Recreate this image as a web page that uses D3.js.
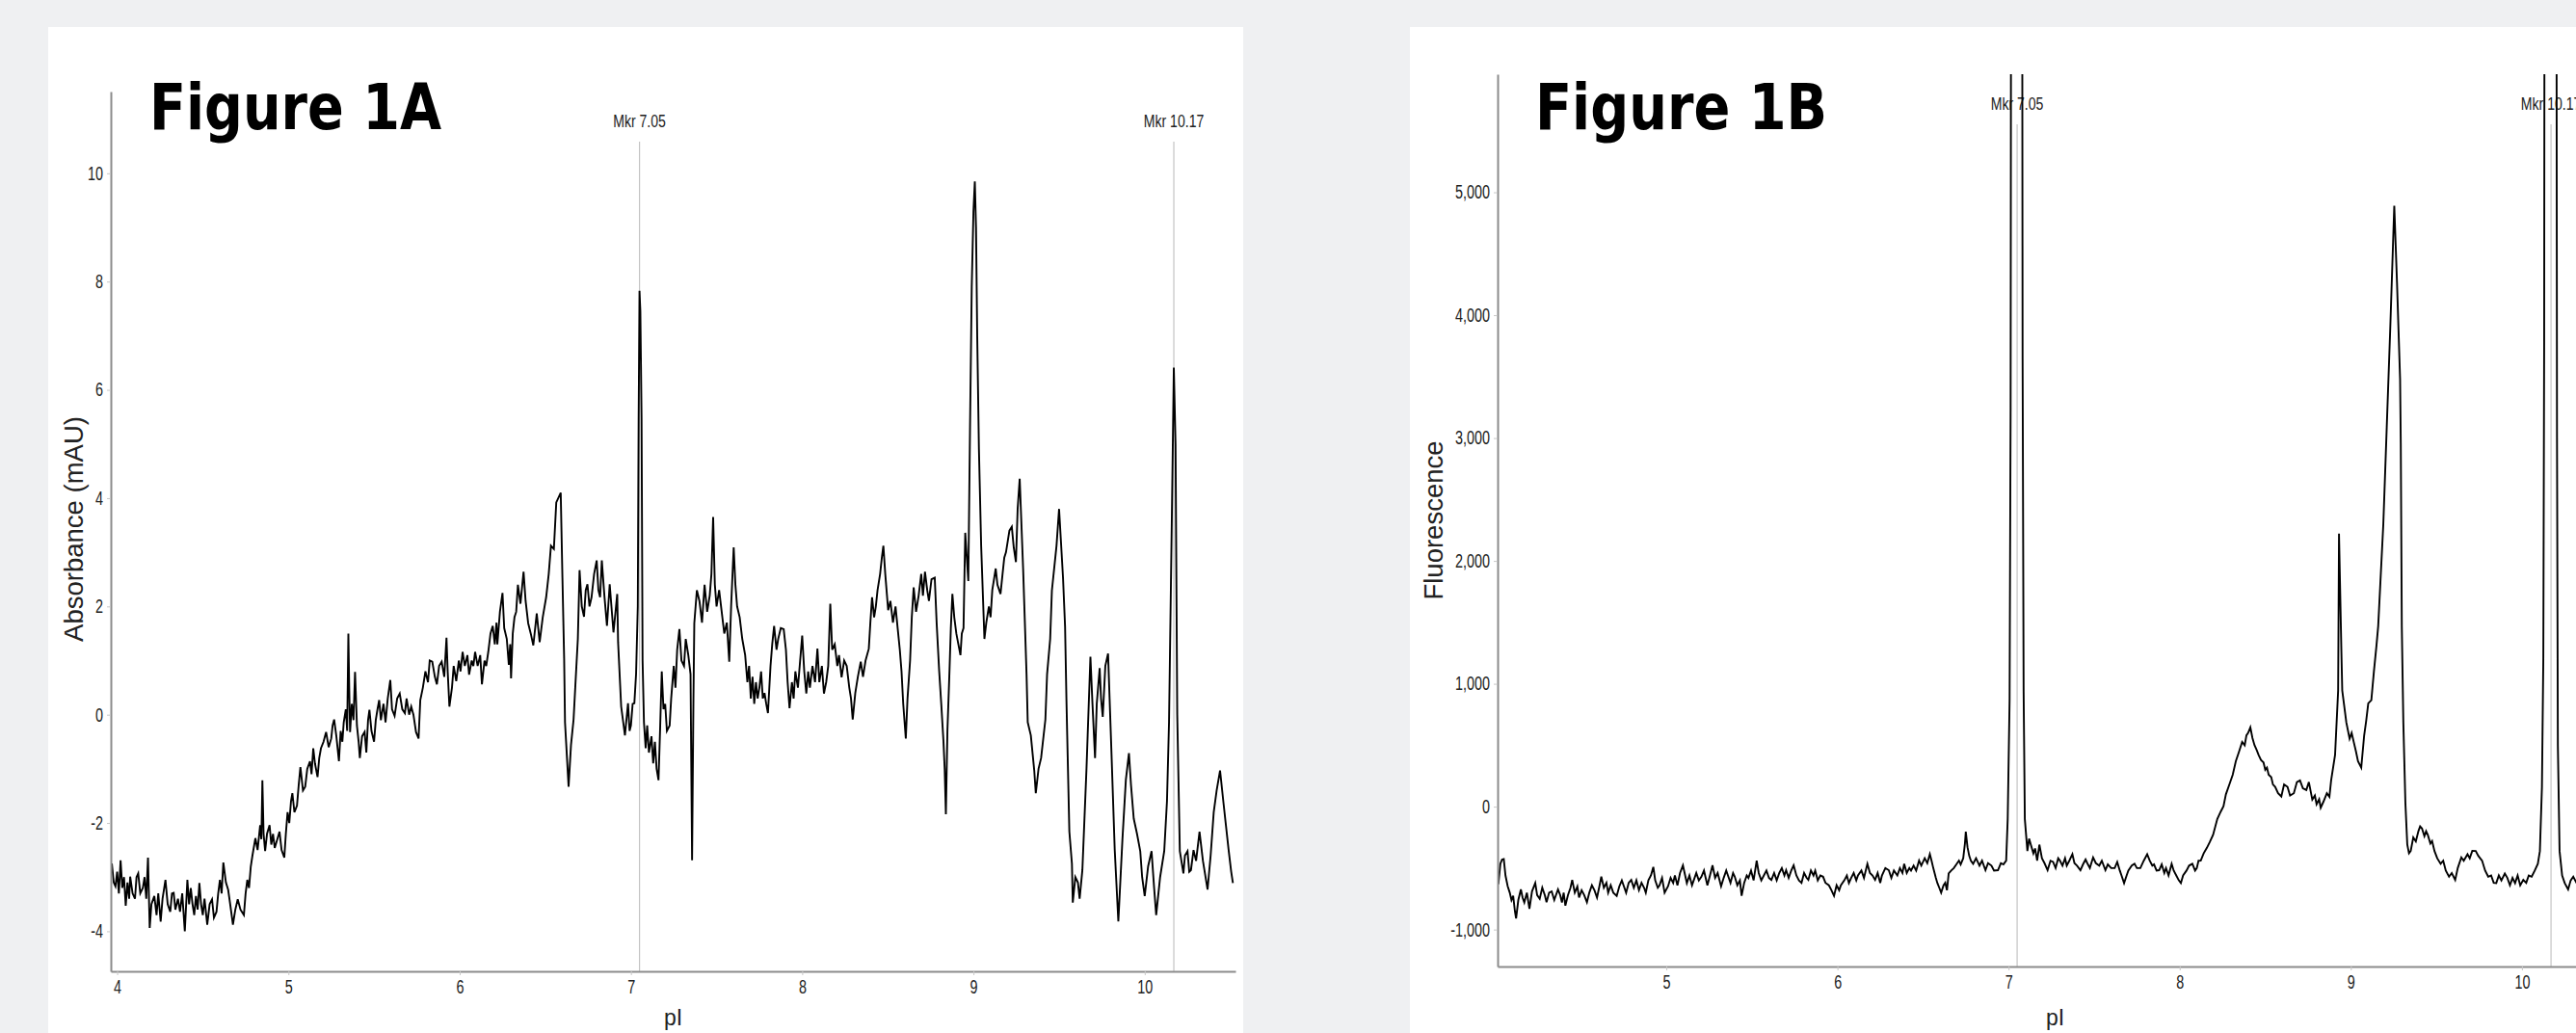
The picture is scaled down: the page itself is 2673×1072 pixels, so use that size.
<!DOCTYPE html>
<html>
<head>
<meta charset="utf-8">
<script src="https://cdn.jsdelivr.net/npm/d3@7"></script>
<style>
  html, body { margin: 0; padding: 0; background: #eff0f2; }
  svg { display: block; }
</style>
</head>
<body>
<svg id="chart" width="2673" height="1072"></svg>
<script>
// Figure 1A trace: [pI, absorbance mAU]
const absorbance = [
  [3.969,-2.75],[3.98,-3.1],[3.99,-3.17],[4.0,-2.9],[4.01,-3.3],[4.02,-2.69],[4.03,-3.2],[4.04,-3.0],
  [4.05,-3.53],[4.06,-3.1],[4.07,-3.4],[4.076,-2.99],[4.09,-3.3],[4.104,-3.40],[4.113,-3.0],[4.123,-2.93],
  [4.135,-3.3],[4.15,-3.2],[4.16,-3.0],[4.17,-3.4],[4.18,-2.64],[4.19,-3.94],[4.20,-3.5],[4.217,-3.35],
  [4.23,-3.7],[4.24,-3.3],[4.254,-3.82],[4.265,-3.4],[4.282,-3.05],[4.295,-3.5],[4.31,-3.64],[4.32,-3.3],
  [4.33,-3.29],[4.34,-3.6],[4.355,-3.4],[4.367,-3.64],[4.38,-3.3],[4.395,-4.0],[4.41,-3.05],[4.42,-3.5],
  [4.43,-3.2],[4.44,-3.5],[4.45,-3.7],[4.46,-3.35],[4.47,-3.6],[4.48,-3.11],[4.49,-3.5],[4.50,-3.70],
  [4.51,-3.4],[4.526,-3.88],[4.54,-3.5],[4.554,-3.41],[4.565,-3.75],[4.58,-3.64],[4.59,-3.3],[4.60,-3.05],
  [4.61,-3.3],[4.62,-2.73],[4.635,-3.1],[4.648,-3.23],[4.66,-3.5],[4.676,-3.88],[4.69,-3.6],[4.704,-3.41],
  [4.72,-3.6],[4.74,-3.70],[4.75,-3.3],[4.76,-3.05],[4.77,-3.2],[4.78,-2.81],[4.79,-2.6],[4.807,-2.28],
  [4.82,-2.5],[4.835,-2.04],[4.842,-2.3],[4.848,-1.21],[4.855,-2.2],[4.864,-2.52],[4.875,-2.2],[4.89,-2.04],
  [4.9,-2.4],[4.91,-2.2],[4.92,-2.46],[4.935,-2.3],[4.948,-2.16],[4.96,-2.5],[4.976,-2.64],[4.985,-2.2],
  [4.995,-1.80],[5.005,-2.0],[5.015,-1.6],[5.023,-1.45],[5.035,-1.8],[5.05,-1.68],[5.06,-1.3],[5.07,-0.97],
  [5.085,-1.4],[5.098,-1.33],[5.11,-1.0],[5.126,-0.86],[5.135,-1.1],[5.145,-0.62],[5.155,-0.9],[5.17,-1.15],
  [5.18,-0.8],[5.19,-0.62],[5.205,-0.5],[5.22,-0.32],[5.235,-0.6],[5.25,-0.44],[5.258,-0.2],[5.267,-0.09],
  [5.28,-0.4],[5.295,-0.86],[5.305,-0.3],[5.315,-0.5],[5.323,-0.14],[5.335,0.1],[5.343,-0.3],[5.35,1.50],
  [5.355,0.5],[5.36,-0.32],[5.37,0.2],[5.38,-0.1],[5.389,0.79],[5.4,-0.2],[5.41,-0.5],[5.417,-0.80],
  [5.43,-0.4],[5.445,-0.32],[5.455,-0.7],[5.465,-0.1],[5.473,0.09],[5.485,-0.3],[5.50,-0.50],[5.51,-0.1],
  [5.52,0.1],[5.53,0.27],[5.54,-0.1],[5.555,0.2],[5.567,-0.14],[5.58,0.3],[5.595,0.64],[5.605,0.1],
  [5.62,-0.02],[5.635,0.3],[5.65,0.39],[5.665,0.1],[5.68,0.03],[5.69,0.3],[5.705,0.0],[5.717,0.15],
  [5.73,0.0],[5.745,-0.32],[5.76,-0.44],[5.77,0.27],[5.785,0.5],[5.80,0.80],[5.815,0.6],[5.825,1.0],
  [5.84,0.98],[5.855,0.7],[5.867,0.56],[5.88,0.9],[5.895,0.98],[5.91,0.7],[5.923,1.42],[5.93,0.8],
  [5.94,0.15],[5.955,0.5],[5.965,0.9],[5.98,0.62],[5.995,1.0],[6.005,0.8],[6.017,1.16],[6.03,0.9],
  [6.045,1.1],[6.055,0.74],[6.07,1.0],[6.08,0.9],[6.09,1.16],[6.105,0.9],[6.12,1.1],[6.13,0.56],
  [6.145,1.0],[6.155,0.9],[6.167,1.16],[6.18,1.5],[6.193,1.64],[6.205,1.3],[6.215,1.7],[6.22,1.3],
  [6.235,1.9],[6.25,2.25],[6.26,1.6],[6.275,1.4],[6.287,0.92],[6.295,1.3],[6.30,0.67],[6.31,1.5],
  [6.32,1.8],[6.33,1.9],[6.34,2.4],[6.355,2.05],[6.373,2.64],[6.385,2.1],[6.40,1.69],[6.415,1.5],
  [6.43,1.28],[6.45,1.87],[6.467,1.34],[6.485,1.8],[6.505,2.17],[6.52,2.6],[6.533,3.12],[6.55,3.06],
  [6.564,3.92],[6.59,4.10],[6.60,2.53],[6.61,1.04],[6.615,-0.14],[6.636,-1.33],[6.65,-0.56],[6.665,-0.09],
  [6.675,0.51],[6.69,1.40],[6.70,2.67],[6.713,2.0],[6.726,1.81],[6.736,2.3],[6.746,2.41],[6.758,2.0],
  [6.77,2.17],[6.785,2.6],[6.80,2.85],[6.81,2.3],[6.82,2.17],[6.83,2.85],[6.845,2.2],[6.86,1.64],
  [6.876,2.41],[6.898,1.52],[6.91,1.9],[6.92,2.23],[6.925,1.34],[6.943,0.15],[6.965,-0.38],[6.983,0.21],
  [6.992,-0.3],[7.0,-0.2],[7.01,0.2],[7.02,0.21],[7.03,0.75],[7.04,2.0],[7.045,5.5],[7.05,7.83],
  [7.055,7.45],[7.062,5.5],[7.068,1.0],[7.076,-0.14],[7.086,-0.62],[7.095,-0.2],[7.105,-0.7],[7.12,-0.4],
  [7.13,-0.9],[7.14,-0.5],[7.15,-1.0],[7.161,-1.21],[7.17,-0.3],[7.18,0.80],[7.19,0.1],[7.2,0.2],
  [7.21,-0.3],[7.226,-0.2],[7.235,0.3],[7.25,0.9],[7.26,0.5],[7.27,1.2],[7.283,1.58],[7.295,1.0],
  [7.31,0.9],[7.32,1.4],[7.335,1.1],[7.348,0.75],[7.357,-2.69],[7.365,0.3],[7.37,1.69],[7.385,2.3],
  [7.4,2.1],[7.415,1.7],[7.43,2.4],[7.445,1.9],[7.46,2.2],[7.47,2.6],[7.48,3.65],[7.49,2.4],
  [7.5,2.0],[7.515,2.3],[7.53,1.9],[7.545,1.5],[7.56,1.7],[7.574,0.98],[7.585,2.0],[7.60,3.09],
  [7.61,2.4],[7.62,2.0],[7.635,1.8],[7.65,1.4],[7.667,1.10],[7.68,0.6],[7.69,0.9],[7.70,0.3],
  [7.71,0.7],[7.72,0.2],[7.73,0.6],[7.74,0.3],[7.75,0.5],[7.76,0.8],[7.77,0.3],[7.78,0.4],
  [7.79,0.2],[7.80,0.03],[7.815,0.9],[7.825,1.3],[7.836,1.64],[7.85,1.2],[7.86,1.4],[7.875,1.6],
  [7.892,1.58],[7.905,1.2],[7.915,0.6],[7.926,0.12],[7.94,0.6],[7.95,0.3],[7.96,0.8],[7.975,0.5],
  [7.988,1.0],[8.0,1.46],[8.012,0.8],[8.024,0.39],[8.035,0.8],[8.045,0.5],[8.06,0.9],[8.075,0.6],
  [8.089,1.22],[8.1,0.6],[8.115,0.9],[8.127,0.39],[8.14,0.6],[8.152,0.9],[8.164,2.05],[8.175,1.2],
  [8.19,1.3],[8.205,0.9],[8.215,1.1],[8.23,0.69],[8.245,1.0],[8.26,0.9],[8.275,0.5],[8.285,0.3],
  [8.295,-0.09],[8.31,0.4],[8.325,0.7],[8.342,0.98],[8.355,0.7],[8.37,1.0],[8.389,1.22],[8.398,1.7],
  [8.408,2.17],[8.42,1.8],[8.43,2.0],[8.44,2.3],[8.455,2.6],[8.465,2.9],[8.474,3.12],[8.485,2.6],
  [8.502,1.93],[8.515,2.1],[8.53,1.7],[8.545,2.0],[8.558,1.58],[8.57,1.2],[8.58,0.8],[8.59,0.2],
  [8.605,-0.44],[8.615,0.3],[8.63,1.0],[8.64,1.8],[8.651,2.35],[8.665,1.9],[8.68,2.2],[8.695,2.6],
  [8.705,2.2],[8.717,2.64],[8.73,2.3],[8.74,2.1],[8.755,2.5],[8.774,2.53],[8.785,1.7],[8.80,0.8],
  [8.812,0.2],[8.825,-0.5],[8.832,-1.0],[8.839,-1.84],[8.848,-0.3],[8.86,0.8],[8.868,1.6],[8.877,2.23],
  [8.888,1.8],[8.90,1.5],[8.912,1.3],[8.924,1.10],[8.932,1.5],[8.942,1.6],[8.952,3.36],[8.97,2.47],
  [8.98,5.31],[8.99,7.9],[9.0,9.3],[9.008,9.85],[9.015,9.0],[9.022,7.0],[9.032,4.9],[9.045,3.12],
  [9.064,1.40],[9.075,1.7],[9.09,2.0],[9.1,1.8],[9.11,2.3],[9.12,2.5],[9.13,2.70],[9.14,2.4],
  [9.158,2.23],[9.17,2.6],[9.18,2.9],[9.19,3.0],[9.2,3.2],[9.21,3.4],[9.224,3.47],[9.235,3.1],
  [9.248,2.82],[9.258,3.8],[9.27,4.36],[9.29,2.7],[9.31,0.75],[9.317,-0.14],[9.335,-0.38],[9.355,-1.03],
  [9.364,-1.45],[9.38,-1.0],[9.395,-0.80],[9.42,-0.09],[9.43,0.75],[9.448,1.40],[9.458,2.29],[9.485,3.12],
  [9.50,3.80],[9.523,2.53],[9.535,1.63],[9.543,0.27],[9.55,-0.74],[9.56,-2.16],[9.575,-2.75],[9.58,-3.47],
  [9.595,-3.0],[9.61,-3.1],[9.62,-3.4],[9.636,-2.87],[9.66,-1.0],[9.683,1.07],[9.695,0.2],[9.71,-0.80],
  [9.72,0.2],[9.737,0.86],[9.745,0.3],[9.755,-0.04],[9.77,0.9],[9.786,1.13],[9.795,0.3],[9.805,-0.62],
  [9.825,-2.5],[9.846,-3.82],[9.87,-2.3],[9.89,-1.2],[9.908,-0.71],[9.92,-1.3],[9.936,-1.92],[9.955,-2.2],
  [9.974,-2.52],[9.985,-3.0],[10.0,-3.35],[10.02,-2.8],[10.04,-2.52],[10.055,-3.2],[10.067,-3.70],[10.09,-3.0],
  [10.114,-2.52],[10.13,-1.6],[10.142,-0.14],[10.16,4.0],[10.17,6.41],[10.18,5.0],[10.19,0.0],[10.205,-2.52],
  [10.226,-2.93],[10.235,-2.6],[10.25,-2.52],[10.26,-2.9],[10.27,-2.87],[10.285,-2.5],[10.3,-2.7],[10.32,-2.16],
  [10.34,-2.7],[10.367,-3.23],[10.385,-2.6],[10.403,-1.80],[10.42,-1.4],[10.44,-1.03],[10.46,-1.63],[10.49,-2.5],
  [10.505,-2.9],[10.515,-3.11]
];

// Figure 1B trace: [pI, fluorescence]; the two marker peaks run off the top
const fluorescence = [
  [4.014,-620],[4.019,-622],[4.03,-465],[4.04,-430],[4.05,-426],[4.06,-560],[4.073,-648],[4.085,-700],
  [4.095,-760],[4.105,-726],[4.115,-850],[4.122,-909],[4.135,-760],[4.15,-674],[4.16,-740],[4.17,-780],
  [4.185,-700],[4.20,-831],[4.215,-690],[4.234,-622],[4.245,-720],[4.26,-750],[4.275,-660],[4.29,-720],
  [4.30,-778],[4.315,-700],[4.33,-690],[4.345,-760],[4.367,-674],[4.38,-720],[4.39,-780],[4.40,-700],
  [4.41,-805],[4.425,-720],[4.44,-660],[4.45,-596],[4.465,-700],[4.48,-650],[4.49,-740],[4.505,-680],
  [4.52,-720],[4.536,-778],[4.55,-700],[4.565,-640],[4.58,-680],[4.595,-740],[4.61,-640],[4.62,-570],
  [4.635,-660],[4.65,-620],[4.66,-700],[4.675,-640],[4.69,-700],[4.71,-726],[4.725,-650],[4.74,-600],
  [4.75,-640],[4.765,-700],[4.78,-620],[4.795,-596],[4.81,-660],[4.825,-600],[4.84,-680],[4.855,-620],
  [4.87,-660],[4.88,-700],[4.895,-600],[4.91,-560],[4.924,-491],[4.935,-600],[4.95,-660],[4.96,-640],
  [4.975,-580],[4.99,-700],[5.01,-648],[5.025,-580],[5.04,-620],[5.05,-560],[5.065,-640],[5.08,-540],
  [5.097,-478],[5.11,-560],[5.12,-622],[5.135,-560],[5.15,-640],[5.16,-600],[5.175,-540],[5.19,-600],
  [5.205,-570],[5.22,-520],[5.24,-640],[5.255,-560],[5.27,-478],[5.285,-580],[5.30,-540],[5.32,-648],
  [5.335,-580],[5.35,-520],[5.36,-560],[5.375,-620],[5.39,-540],[5.40,-570],[5.415,-640],[5.43,-600],
  [5.44,-726],[5.455,-620],[5.47,-560],[5.48,-580],[5.495,-520],[5.51,-600],[5.528,-439],[5.54,-540],
  [5.555,-600],[5.57,-560],[5.585,-520],[5.60,-580],[5.614,-596],[5.63,-540],[5.645,-600],[5.66,-540],
  [5.675,-500],[5.69,-560],[5.70,-517],[5.715,-580],[5.73,-520],[5.744,-478],[5.76,-560],[5.775,-600],
  [5.79,-620],[5.805,-540],[5.82,-580],[5.83,-596],[5.845,-520],[5.86,-560],[5.87,-520],[5.885,-600],
  [5.90,-560],[5.916,-570],[5.93,-620],[5.95,-640],[5.965,-680],[5.98,-726],[5.995,-640],[6.01,-680],
  [6.02,-640],[6.04,-600],[6.055,-560],[6.067,-622],[6.08,-580],[6.095,-540],[6.11,-600],[6.12,-560],
  [6.14,-520],[6.155,-580],[6.175,-465],[6.19,-540],[6.205,-560],[6.22,-596],[6.235,-540],[6.25,-620],
  [6.26,-560],[6.28,-500],[6.30,-517],[6.315,-580],[6.33,-520],[6.35,-560],[6.365,-500],[6.38,-540],
  [6.39,-465],[6.405,-540],[6.42,-500],[6.43,-520],[6.445,-480],[6.46,-520],[6.477,-439],[6.49,-480],
  [6.51,-420],[6.525,-460],[6.54,-387],[6.55,-440],[6.56,-500],[6.575,-580],[6.584,-622],[6.595,-660],
  [6.606,-700],[6.62,-640],[6.63,-620],[6.64,-680],[6.65,-544],[6.665,-520],[6.68,-500],[6.695,-470],
  [6.71,-439],[6.72,-470],[6.735,-420],[6.745,-300],[6.75,-204],[6.76,-330],[6.77,-400],[6.78,-440],
  [6.793,-465],[6.81,-420],[6.83,-480],[6.845,-440],[6.865,-517],[6.88,-460],[6.90,-480],[6.915,-520],
  [6.938,-517],[6.955,-460],[6.97,-470],[6.986,-439],[6.995,-100],[7.006,867],[7.012,3250],[7.018,12000],
  [7.076,12000],[7.082,3640],[7.088,936],[7.095,-100],[7.11,-361],[7.12,-260],[7.13,-309],[7.145,-380],
  [7.155,-340],[7.167,-439],[7.18,-309],[7.195,-420],[7.21,-460],[7.228,-517],[7.245,-440],[7.26,-450],
  [7.275,-500],[7.29,-420],[7.30,-439],[7.315,-480],[7.33,-420],[7.34,-480],[7.355,-440],[7.373,-387],
  [7.385,-460],[7.40,-480],[7.42,-517],[7.435,-470],[7.45,-430],[7.46,-460],[7.475,-500],[7.494,-413],
  [7.51,-460],[7.53,-480],[7.545,-440],[7.566,-517],[7.58,-470],[7.60,-500],[7.62,-500],[7.635,-450],
  [7.65,-520],[7.66,-560],[7.675,-622],[7.69,-560],[7.70,-520],[7.72,-480],[7.736,-465],[7.75,-500],
  [7.77,-500],[7.79,-440],[7.81,-387],[7.825,-440],[7.84,-480],[7.85,-470],[7.865,-520],[7.88,-517],
  [7.895,-470],[7.91,-540],[7.92,-500],[7.935,-560],[7.953,-465],[7.965,-520],[7.98,-560],[7.995,-600],
  [8.007,-622],[8.02,-560],[8.04,-520],[8.055,-480],[8.074,-465],[8.09,-520],[8.10,-500],[8.11,-440],
  [8.123,-439],[8.14,-380],[8.159,-335],[8.175,-290],[8.195,-230],[8.22,-100],[8.24,-40],[8.256,4],
  [8.27,100],[8.292,187],[8.31,260],[8.328,370],[8.345,440],[8.365,527],[8.38,500],[8.39,580],
  [8.40,600],[8.413,645],[8.425,560],[8.437,501],[8.45,460],[8.461,422],[8.475,380],[8.49,360],
  [8.5,300],[8.51,318],[8.52,260],[8.535,240],[8.545,180],[8.558,161],[8.575,110],[8.594,83],
  [8.61,180],[8.63,161],[8.645,90],[8.667,109],[8.685,200],[8.703,213],[8.72,150],[8.74,135],
  [8.755,200],[8.775,57],[8.79,90],[8.80,20],[8.815,60],[8.824,-9],[8.84,40],[8.86,109],
  [8.875,80],[8.885,213],[8.908,422],[8.926,945],[8.931,2222],[8.945,1259],[8.95,945],[8.974,684],
  [8.993,553],[9.005,600],[9.017,527],[9.03,450],[9.042,370],[9.061,318],[9.078,579],[9.09,700],
  [9.102,841],[9.12,867],[9.135,1100],[9.15,1311],[9.16,1468],[9.19,2300],[9.21,3088],[9.23,3871],
  [9.254,4890],[9.27,4263],[9.288,3480],[9.292,2957],[9.298,1468],[9.307,684],[9.319,31],[9.33,-309],
  [9.34,-380],[9.35,-361],[9.365,-250],[9.38,-283],[9.395,-200],[9.405,-160],[9.416,-178],[9.43,-240],
  [9.44,-200],[9.45,-230],[9.465,-300],[9.475,-280],[9.489,-361],[9.505,-420],[9.525,-465],[9.54,-440],
  [9.555,-520],[9.574,-570],[9.59,-540],[9.61,-596],[9.625,-500],[9.646,-413],[9.66,-440],[9.682,-387],
  [9.695,-420],[9.71,-360],[9.73,-361],[9.745,-400],[9.767,-439],[9.785,-520],[9.803,-570],[9.82,-560],
  [9.835,-620],[9.85,-622],[9.865,-560],[9.88,-600],[9.90,-544],[9.915,-580],[9.93,-640],[9.945,-580],
  [9.96,-622],[9.975,-560],[9.99,-640],[10.008,-596],[10.025,-620],[10.04,-560],[10.057,-570],[10.075,-520],
  [10.093,-465],[10.105,-361],[10.117,161],[10.125,1207],[10.13,3795],[10.135,12000],[10.198,12000],[10.205,3000],
  [10.21,501],[10.22,-361],[10.235,-560],[10.25,-622],[10.27,-674],[10.285,-600],[10.30,-570],[10.33,-650]
];

const markers = [7.05, 10.17];
const absXTicks = [4, 5, 6, 7, 8, 9, 10];
const absYTicks = [-4, -2, 0, 2, 4, 6, 8, 10];
const fluXTicks = [5, 6, 7, 8, 9, 10];
const fluYTicks = [-1000, 0, 1000, 2000, 3000, 4000, 5000];

// plain hyphen minus, thousands comma
const numLocale = d3.formatLocale({ decimal: ".", thousands: ",", grouping: [3], currency: ["", ""], minus: "-" });

const panels = [
  {
    id: "A", title: "Figure 1A", yTitle: "Absorbance (mAU)", data: absorbance,
    xDomain: [3.963, 10.53], yDomain: [-4.74, 11.51],
    xTicks: absXTicks, yTicks: absYTicks, yFormat: numLocale.format("d"),
    card: { x: 50, y: 28, w: 1240 },
    plot: { left: 115, right: 1282, top: 95, bottom: 1008 },
    titleX: 155, yTitlePos: [76, 549]
  },
  {
    id: "B", title: "Figure 1B", yTitle: "Fluorescence", data: fluorescence,
    xDomain: [4.014, 10.53], yDomain: [-1301, 5961],
    xTicks: fluXTicks, yTicks: fluYTicks, yFormat: numLocale.format(","),
    card: { x: 1463, y: 28, w: 1300 },
    plot: { left: 1554, right: 2711, top: 77, bottom: 1003 },
    titleX: 1593, yTitlePos: [1487, 540]
  }
];

const svg = d3.select("#chart");
const TICK_FONT = "'Liberation Sans', Arial, sans-serif";

// the original uses a narrow face; squeeze glyphs horizontally
function squeeze(sel, k) {
  sel.each(function () {
    const w = this.getComputedTextLength();
    this.setAttribute("textLength", (w * k).toFixed(1));
    this.setAttribute("lengthAdjust", "spacingAndGlyphs");
  });
}

function drawPanel(p) {
  const g = svg.append("g").attr("class", "panel-" + p.id);

  g.append("rect")
    .attr("x", p.card.x).attr("y", p.card.y)
    .attr("width", p.card.w).attr("height", 1100)
    .attr("fill", "#ffffff");

  const x = d3.scaleLinear().domain(p.xDomain).range([p.plot.left, p.plot.right]);
  const y = d3.scaleLinear().domain(p.yDomain).range([p.plot.bottom, p.plot.top]);

  const clipId = "clip" + p.id;
  svg.append("clipPath").attr("id", clipId)
    .append("rect")
    .attr("x", p.plot.left).attr("y", p.plot.top)
    .attr("width", p.plot.right - p.plot.left)
    .attr("height", p.plot.bottom - p.plot.top);

  // marker lines + labels
  const mk = g.append("g").attr("class", "markers");
  mk.selectAll("line").data(markers).join("line")
    .attr("x1", (d) => x(d)).attr("x2", (d) => x(d))
    .attr("y1", p.plot.top + 52).attr("y2", p.plot.bottom)
    .attr("stroke", "#c4c4c4").attr("stroke-width", 1.2);
  mk.selectAll("text").data(markers).join("text")
    .attr("x", (d) => x(d)).attr("y", p.plot.top + 37)
    .attr("text-anchor", "middle")
    .attr("font-family", TICK_FONT).attr("font-size", 19)
    .attr("fill", "#222")
    .text((d) => "Mkr " + d.toFixed(2))
    .call(squeeze, 0.74);

  // trace
  const line = d3.line().x((d) => x(d[0])).y((d) => y(d[1]));
  g.append("path")
    .datum(p.data)
    .attr("clip-path", `url(#${clipId})`)
    .attr("d", line)
    .attr("fill", "none")
    .attr("stroke", "#000")
    .attr("stroke-width", 1.9)
    .attr("stroke-linejoin", "miter");

  // axes
  const xAxis = g.append("g")
    .attr("transform", `translate(0,${p.plot.bottom})`)
    .call(d3.axisBottom(x).tickValues(p.xTicks).tickSize(4).tickSizeOuter(0)
      .tickPadding(5).tickFormat((d) => String(d)));
  const yAxis = g.append("g")
    .attr("transform", `translate(${p.plot.left},0)`)
    .call(d3.axisLeft(y).tickValues(p.yTicks).tickSize(4).tickSizeOuter(0)
      .tickPadding(4).tickFormat(p.yFormat));

  for (const ax of [xAxis, yAxis]) {
    ax.select(".domain").attr("stroke", "#8c8c8c").attr("stroke-width", 2);
    ax.selectAll(".tick line").attr("stroke", "#c8c8c8").attr("stroke-width", 1);
    ax.selectAll(".tick text")
      .attr("font-family", TICK_FONT).attr("font-size", 20).attr("fill", "#222")
      .call(squeeze, 0.72);
  }

  // axis titles
  g.append("text")
    .attr("x", (p.plot.left + p.plot.right) / 2).attr("y", 1064)
    .attr("text-anchor", "middle")
    .attr("font-family", TICK_FONT).attr("font-size", 23).attr("fill", "#222")
    .text("pI");

  g.append("text")
    .attr("transform", `translate(${p.yTitlePos[0]},${p.yTitlePos[1]}) rotate(-90)`)
    .attr("text-anchor", "middle").attr("dy", "0.36em")
    .attr("font-family", TICK_FONT).attr("font-size", 27.5).attr("fill", "#222")
    .text(p.yTitle);

  // figure label
  g.append("text")
    .attr("x", p.titleX).attr("y", 134)
    .attr("font-family", "'DejaVu Sans', Verdana, sans-serif")
    .attr("font-weight", "bold").attr("font-size", 66)
    .attr("textLength", 303).attr("lengthAdjust", "spacingAndGlyphs")
    .attr("fill", "#000")
    .text(p.title);
}

panels.forEach(drawPanel);
</script>
</body>
</html>
